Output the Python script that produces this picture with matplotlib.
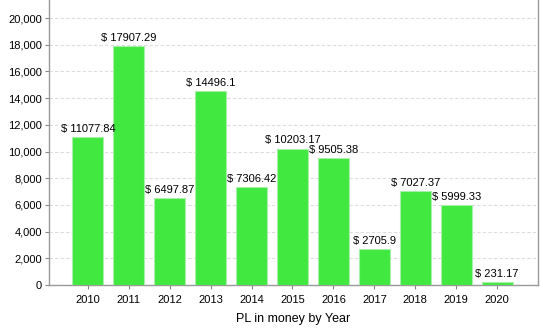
import matplotlib
matplotlib.use("Agg")
import matplotlib.pyplot as plt
from matplotlib.ticker import FuncFormatter

years = ["2010", "2011", "2012", "2013", "2014", "2015", "2016", "2017", "2018", "2019", "2020"]
values = [11077.84, 17907.29, 6497.87, 14496.1, 7306.42, 10203.17, 9505.38, 2705.9, 7027.37, 5999.33, 231.17]
labels = ["$ 11077.84", "$ 17907.29", "$ 6497.87", "$ 14496.1", "$ 7306.42", "$ 10203.17",
          "$ 9505.38", "$ 2705.9", "$ 7027.37", "$ 5999.33", "$ 231.17"]

plt.rcParams['font.family'] = ['Liberation Sans', 'DejaVu Sans']

fig = plt.figure(figsize=(5.43, 3.33), dpi=100)
ax = fig.add_axes([49/543, 48/333, (538-49)/543, 285/333])

x = list(range(len(years)))
ax.bar(x, values, width=0.76, color="#40e840", edgecolor="#a8f0a8", linewidth=0.8, zorder=3)
for xi, v, lab in zip(x, values, labels):
    ax.text(xi, v + 250, lab, ha="center", va="bottom", fontsize=8, color="#000000", zorder=4)

ax.set_xlim(-0.95, 11.0)
ax.set_ylim(0, 21350)
ax.set_xticks(x)
ax.set_xticklabels(years, fontsize=8)
ax.set_yticks(range(0, 20001, 2000))
ax.yaxis.set_major_formatter(FuncFormatter(lambda v, p: f"{int(v):,}"))
ax.tick_params(axis="y", labelsize=8, length=3, color="#888888", pad=2)
ax.tick_params(axis="x", length=3, color="#888888", pad=4)
ax.grid(axis="y", color="#dddddd", linestyle=(0, (3, 2)), linewidth=0.8, zorder=0)
ax.set_xlabel("PL in money by Year", fontsize=9, labelpad=6)

for s in ["left", "bottom", "right"]:
    ax.spines[s].set_color("#999999")
    ax.spines[s].set_linewidth(1.0)
ax.spines["top"].set_visible(False)

fig.savefig("out.png", dpi=100)
